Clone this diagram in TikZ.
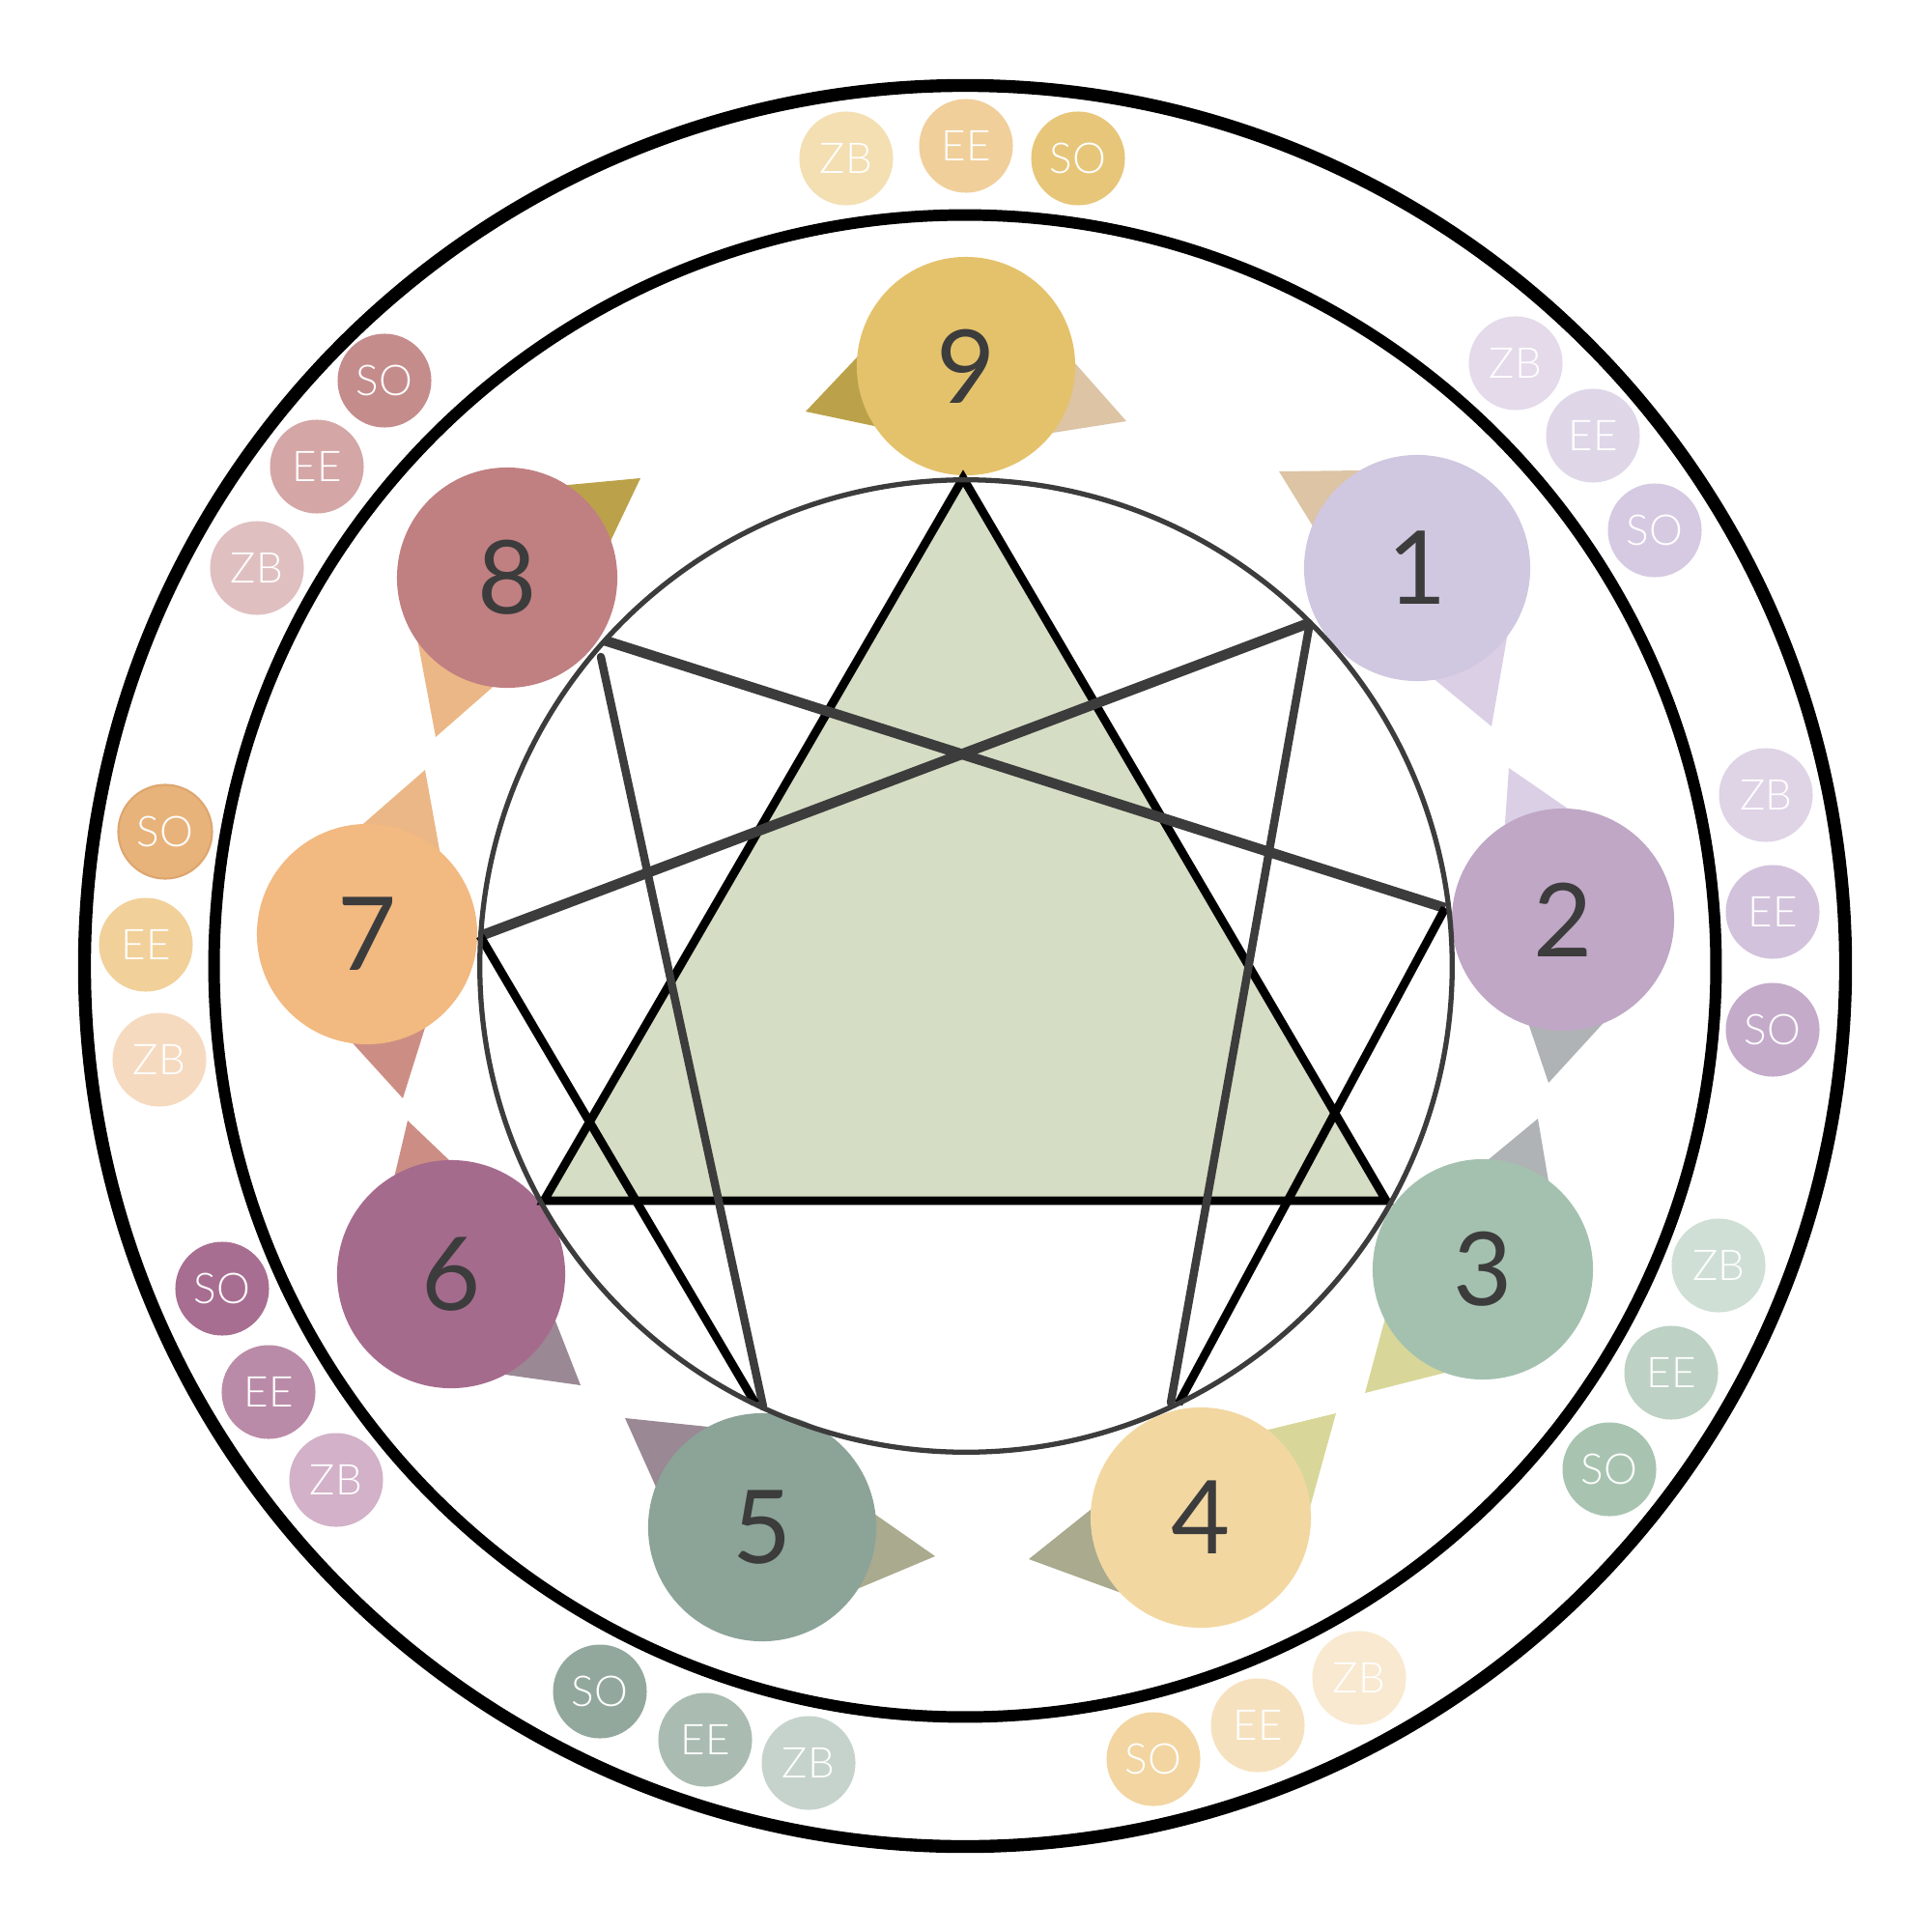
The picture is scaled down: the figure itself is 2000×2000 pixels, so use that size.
\documentclass[tikz,border=0pt]{standalone}
\usepackage{fontspec}
\setmainfont{Lato}
\newfontfamily\lightlato{Lato}[UprightFont={* Light}]
\usetikzlibrary{calc}
\definecolor{numc}{HTML}{3C3C3C}
\definecolor{linec}{HTML}{3C3C3C}
\definecolor{trifill}{HTML}{D5DDC4}
% main circles
\definecolor{m9}{HTML}{E4C26C}
\definecolor{m1}{HTML}{D0C7E0}
\definecolor{m2}{HTML}{BFA7C5}
\definecolor{m3}{HTML}{A4C1AF}
\definecolor{m4}{HTML}{F3D7A1}
\definecolor{m5}{HTML}{8CA398}
\definecolor{m6}{HTML}{A56B8D}
\definecolor{m7}{HTML}{F2B981}
\definecolor{m8}{HTML}{C07F81}
% wings
\definecolor{wdgold}{HTML}{BBA24A}
\definecolor{wbeige}{HTML}{DCC4A4}
\definecolor{wlav}{HTML}{DBCFE6}
\definecolor{wgrey}{HTML}{AFB3B5}
\definecolor{wyg}{HTML}{D8D799}
\definecolor{wolive}{HTML}{A9AA8E}
\definecolor{wmauve}{HTML}{9A8894}
\definecolor{wsalmon}{HTML}{CC8E84}
\definecolor{worange}{HTML}{EBB786}
% small circles
\definecolor{z9}{HTML}{F3DFB2}\definecolor{e9}{HTML}{F0CF9A}\definecolor{s9}{HTML}{E7C67A}
\definecolor{z1}{HTML}{E4DAEA}\definecolor{e1}{HTML}{DFD7E8}\definecolor{s1}{HTML}{D6CAE2}
\definecolor{z2}{HTML}{DFD3E6}\definecolor{e2}{HTML}{D3C2DC}\definecolor{s2}{HTML}{C4ABCA}
\definecolor{z3}{HTML}{CFDFD5}\definecolor{e3}{HTML}{BDD1C4}\definecolor{s3}{HTML}{A8C4B1}
\definecolor{z4}{HTML}{F8E9D0}\definecolor{e4}{HTML}{F6E1BF}\definecolor{s4}{HTML}{F2D5A1}
\definecolor{z5}{HTML}{C6D3CC}\definecolor{e5}{HTML}{AABCB1}\definecolor{s5}{HTML}{93A89D}
\definecolor{z6}{HTML}{D3B1C8}\definecolor{e6}{HTML}{BA8BA8}\definecolor{s6}{HTML}{A86E91}
\definecolor{z7}{HTML}{F6DAC0}\definecolor{e7}{HTML}{F1D09A}\definecolor{s7}{HTML}{E8B37B}
\definecolor{z8}{HTML}{E0BFC1}\definecolor{e8}{HTML}{D4A6A6}\definecolor{s8}{HTML}{C58C8C}
\definecolor{s7edge}{HTML}{DDA66E}
\newcommand\wingtri[5]{\fill[#5] #1 -- ($#1!1.3!#2$) -- #4 -- ($#1!1.3!#3$) -- cycle;}
\begin{document}
\begin{tikzpicture}[x=0.01cm,y=-0.01cm,
  mainc/.style={circle,inner sep=0pt,minimum size=#1,text=numc,font=\fontsize{30}{36}\selectfont},
  subc/.style={circle,inner sep=0pt,minimum size=0.97cm,text=white,font=\lightlato\fontsize{12.5}{14}\selectfont},
  ringouter/.style={line width=3.8pt,draw=black},
  ringinner/.style={line width=3.4pt,draw=black},
  greyline/.style={draw=linec,line width=3.0pt},
  greythin/.style={draw=linec,line width=2.4pt,line cap=round},
  blackline/.style={draw=black,line width=2.5pt}]
\useasboundingbox (0,0) rectangle (2000,2000);
% rings
\coordinate (ctr) at (999,1000);
\draw[ringouter] (ctr) circle[radius=9.11cm];
\draw[ringinner] (ctr) circle[radius=7.77cm];
% small circles
\node[subc,fill=z9] (zb9) at (876,164) {ZB};
\node[subc,fill=e9] (ee9) at (1000,151) {EE};
\node[subc,fill=s9] (so9) at (1116,164) {SO};
\node[subc,fill=z1] (zb1) at (1569,376) {ZB};
\node[subc,fill=e1] (ee1) at (1649,451) {EE};
\node[subc,fill=s1] (so1) at (1713,549) {SO};
\node[subc,fill=z2] (zb2) at (1828,823) {ZB};
\node[subc,fill=e2] (ee2) at (1835,944) {EE};
\node[subc,fill=s2] (so2) at (1835,1066) {SO};
\node[subc,fill=z3] (zb3) at (1779,1310) {ZB};
\node[subc,fill=e3] (ee3) at (1730,1421) {EE};
\node[subc,fill=s3] (so3) at (1666,1521) {SO};
\node[subc,fill=z4] (zb4) at (1407,1737) {ZB};
\node[subc,fill=e4] (ee4) at (1302,1786) {EE};
\node[subc,fill=s4] (so4) at (1194,1821) {SO};
\node[subc,fill=s5] (so5) at (621,1751) {SO};
\node[subc,fill=e5] (ee5) at (730,1801) {EE};
\node[subc,fill=z5] (zb5) at (837,1825) {ZB};
\node[subc,fill=s6] (so6) at (230,1334) {SO};
\node[subc,fill=e6] (ee6) at (278,1441) {EE};
\node[subc,fill=z6] (zb6) at (348,1532) {ZB};
\node[subc,fill=s7,draw=s7edge,line width=0.6pt] (so7) at (171,861) {SO};
\node[subc,fill=e7] (ee7) at (151,978) {EE};
\node[subc,fill=z7] (zb7) at (165,1097) {ZB};
\node[subc,fill=s8] (so8) at (398,394) {SO};
\node[subc,fill=e8] (ee8) at (328,483) {EE};
\node[subc,fill=z8] (zb8) at (266,588) {ZB};
% centres of main circles
\coordinate (c9) at (1000,379);
\coordinate (c1) at (1467,588);
\coordinate (c2) at (1618,952);
\coordinate (c3) at (1535,1314);
\coordinate (c4) at (1243,1571);
\coordinate (c5) at (789,1581);
\coordinate (c6) at (467,1319);
\coordinate (c7) at (380,967);
\coordinate (c8) at (525,598);
% wing triangles
\wingtri{(834,426)}{(887,370)}{(905,441)}{(c9)}{wdgold}
\wingtri{(1166,436)}{(1112,375)}{(1090,448)}{(c9)}{wbeige}
\wingtri{(1324,488)}{(1410,487)}{(1358,543)}{(c1)}{wbeige}
\wingtri{(1544,752)}{(1487,705)}{(1560,660)}{(c1)}{wlav}
\wingtri{(1562,795)}{(1620,835)}{(1558,852)}{(c2)}{wlav}
\wingtri{(1603,1121)}{(1583,1062)}{(1657,1062)}{(c2)}{wgrey}
\wingtri{(1592,1158)}{(1540,1201)}{(1603,1223)}{(c3)}{wgrey}
\wingtri{(1413,1442)}{(1433,1368)}{(1492,1422)}{(c3)}{wyg}
\wingtri{(1383,1463)}{(1313,1480)}{(1357,1557)}{(c4)}{wyg}
\wingtri{(1065,1614)}{(1130,1562)}{(1158,1648)}{(c4)}{wolive}
\wingtri{(968,1611)}{(905,1567)}{(887,1645)}{(c5)}{wolive}
\wingtri{(647,1468)}{(733,1477)}{(678,1537)}{(c5)}{wmauve}
\wingtri{(601,1434)}{(576,1370)}{(523,1423)}{(c6)}{wmauve}
\wingtri{(422,1160)}{(409,1215)}{(465,1201)}{(c6)}{wsalmon}
\wingtri{(417,1137)}{(367,1082)}{(439,1067)}{(c7)}{wsalmon}
\wingtri{(440,797)}{(377,852)}{(455,880)}{(c7)}{worange}
\wingtri{(451,763)}{(433,667)}{(508,713)}{(c8)}{worange}
\wingtri{(663,495)}{(588,502)}{(633,558)}{(c8)}{wdgold}
% main circles
\node[mainc=2.26cm,fill=m9] (n9) at (c9) {9};
\node[mainc=2.34cm,fill=m1] (n1) at (c1) {1};
\node[mainc=2.30cm,fill=m2] (n2) at (c2) {2};
\node[mainc=2.28cm,fill=m3] (n3) at (c3) {3};
\node[mainc=2.28cm,fill=m4] (n4) at (c4) {4};
\node[mainc=2.36cm,fill=m5] (n5) at (c5) {5};
\node[mainc=2.36cm,fill=m6] (n6) at (c6) {6};
\node[mainc=2.28cm,fill=m7] (n7) at (c7) {7};
\node[mainc=2.28cm,fill=m8] (n8) at (c8) {8};
% enneagram points
\coordinate (t9) at (997,495);
\coordinate (t3) at (1435,1243);
\coordinate (t6) at (563,1243);
\coordinate (p1) at (1355,645);
\coordinate (p1b) at (1355,650);
\coordinate (p2) at (1496,940);
\coordinate (p4a) at (1212,1452);
\coordinate (p4b) at (1220,1453);
\coordinate (p5a) at (790,1456);
\coordinate (p5b) at (782,1453);
\coordinate (p7) at (497,969);
\coordinate (p8a) at (626,663);
\coordinate (p8b) at (622,680);
% triangle
\filldraw[fill=trifill,draw=black,line width=2.5pt,line join=miter] (t9) -- (t3) -- (t6) -- cycle;
% hexad
\draw[greyline] (p7) -- (p1);
\draw[greyline] (p2) -- (p8a);
\draw[greythin] (p1b) -- (p4a);
\draw[greythin] (p8b) -- (p5a);
\draw[blackline] (p4b) -- (p2);
\draw[blackline] (p5b) -- (p7);
% thin circle
\draw[draw=linec,line width=1.5pt] (1000,1000) circle[radius=5.03cm];
\end{tikzpicture}
\end{document}
